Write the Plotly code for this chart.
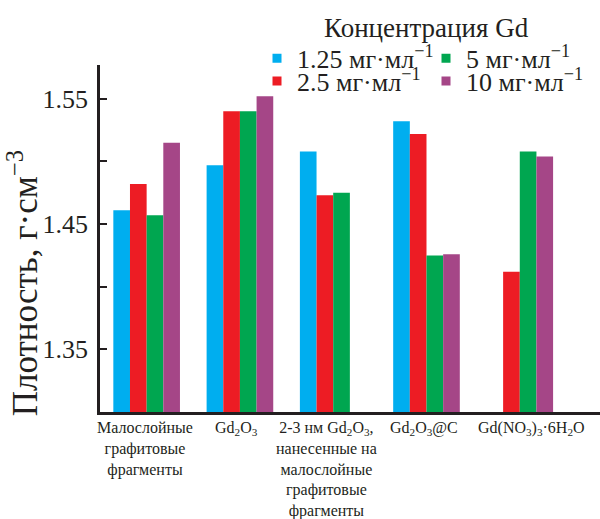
import plotly.graph_objects as go

categories = [
    "Малослойные<br>графитовые<br>фрагменты",
    "Gd<sub>2</sub>O<sub>3</sub>",
    "2-3 нм Gd<sub>2</sub>O<sub>3</sub>,<br>нанесенные на<br>малослойные<br>графитовые<br>фрагменты",
    "Gd<sub>2</sub>O<sub>3</sub>@C",
    "Gd(NO<sub>3</sub>)<sub>3</sub>·6H<sub>2</sub>O",
]
series_names = [
    "1.25 мг·мл<sup>−1</sup>",
    "2.5 мг·мл<sup>−1</sup>",
    "5 мг·мл<sup>−1</sup>",
    "10 мг·мл<sup>−1</sup>",
]
v_125 = [1.461, 1.497, 1.508, 1.532, None]
v_25 = [1.482, 1.540, 1.473, 1.522, 1.412]
v_5 = [1.457, 1.540, 1.475, 1.425, 1.508]
v_10 = [1.515, 1.552, None, 1.426, 1.504]
y_ticks = [1.35, 1.45, 1.55]
y_minor = [1.40, 1.50]

colors = ["#00aeef", "#ed1c24", "#00a650", "#a54687"]
legends = ["legend", "legend2", "legend", "legend2"]
values = [v_125, v_25, v_5, v_10]
label_xshift = [-2, -3, -7, -2, 12]

SERIF = "Liberation Serif"
INK = "#231f20"
xs = list(range(len(categories)))
fig = go.Figure()
for name, vals, col in zip(series_names, values, colors):
    fig.add_trace(go.Bar(x=xs, y=vals, name=name, showlegend=False,
                         marker=dict(color=col, line=dict(width=0))))
# legend entries (small square keys)
for name, col, lg in zip(series_names, colors, legends):
    fig.add_trace(go.Scatter(x=[None], y=[None], name=name, mode="markers",
                             marker=dict(symbol="square", size=9, color=col),
                             legend=lg, showlegend=True))

annotations = [
    dict(text="Концентрация Gd", xref="paper", yref="paper", x=0.652, y=1.1065,
         xanchor="center", yanchor="middle", showarrow=False,
         font=dict(family=SERIF, size=27, color=INK)),
    dict(text="Плотность, г·см<sup>−3</sup>", xref="paper", yref="paper", x=-0.154, y=0.371,
         xanchor="center", yanchor="middle", textangle=-90, showarrow=False,
         font=dict(family=SERIF, size=35, color=INK)),
]
for i, (lab, sh) in enumerate(zip(categories, label_xshift)):
    annotations.append(dict(text=lab, xref="x", yref="paper", x=i, y=0, xshift=sh, yshift=-5,
                            xanchor="center", yanchor="top", align="center", showarrow=False,
                            font=dict(family=SERIF, size=16, color=INK)))

leg_common = dict(orientation="h", xanchor="left", yanchor="top", entrywidth=124,
                  font=dict(family=SERIF, size=26, color=INK),
                  bgcolor="rgba(0,0,0,0)", itemclick=False, itemdoubleclick=False)

fig.update_layout(
    width=600, height=519,
    margin=dict(l=100, r=0, t=65, b=107, autoexpand=False),
    paper_bgcolor="white", plot_bgcolor="white",
    barmode="group", bargap=0.2857, bargroupgap=0,
    font=dict(family=SERIF, color=INK),
    legend=dict(x=0.314, y=1.087, **leg_common),
    legend2=dict(x=0.314, y=1.021, **leg_common),
    xaxis=dict(range=[-0.5, 4.86], tickvals=xs, showticklabels=False,
               showline=True, linewidth=3, linecolor=INK,
               ticks="", showgrid=False, zeroline=False, automargin=False),
    yaxis=dict(range=[1.30, 1.577], tickvals=y_ticks, ticktext=[f"{v:.2f}" for v in y_ticks],
               ticks="inside", ticklen=7, tickwidth=2, tickcolor=INK,
               minor=dict(tickvals=y_minor, ticks="inside", ticklen=7, tickwidth=2, tickcolor=INK),
               showline=True, linewidth=2.5, linecolor=INK, showgrid=False, zeroline=False,
               ticklabelstandoff=4, automargin=False,
               tickfont=dict(family=SERIF, size=26, color=INK)),
    annotations=annotations,
)
fig.write_html("out.html", config={"displayModeBar": False},
               post_script="document.body.style.margin='0';document.body.style.padding='0';"
                           "document.documentElement.style.overflow='hidden';")
